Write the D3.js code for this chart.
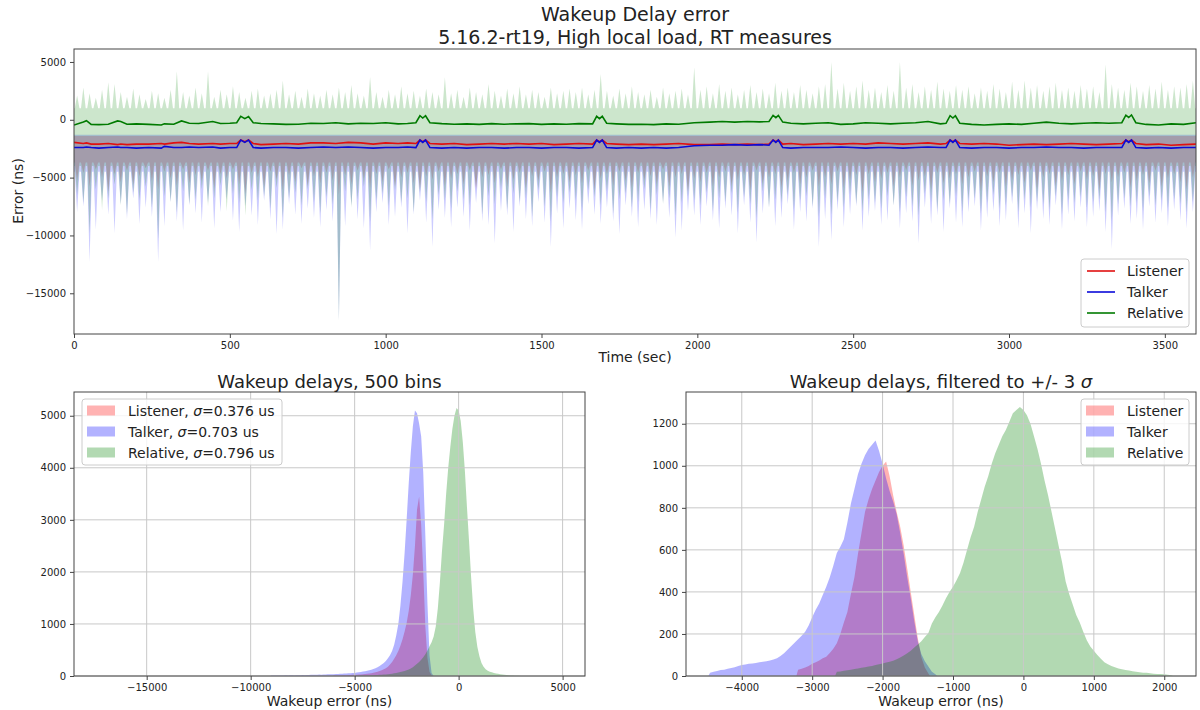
<!DOCTYPE html>
<html><head><meta charset="utf-8">
<script src="https://cdn.jsdelivr.net/npm/d3@7"></script>
<style>body{margin:0;background:#fff}svg{display:block;font-family:"DejaVu Sans",sans-serif}</style>
</head><body><svg id="c" width="1200" height="710"></svg>
<script>
// ---------------- DATA ----------------
const seriesNames = ["Listener", "Talker", "Relative"];
const sigmaLabels = ["0.376", "0.703", "0.796"];
const timeTicks = [0, 500, 1000, 1500, 2000, 2500, 3000, 3500];
const errorTicks = [5000, 0, -5000, -10000, -15000];
const leftXTicks = [-15000, -10000, -5000, 0, 5000];
const leftYTicks = [0, 1000, 2000, 3000, 4000, 5000];
const rightXTicks = [-4000, -3000, -2000, -1000, 0, 1000, 2000];
const rightYTicks = [0, 200, 400, 600, 800, 1000, 1200];

// raw time series summarised per 20 s bin (first bin centred at 10 s)
const timeBinStart = 10, timeBinStep = 20;
// dense core of each raw series [low, high] (ns)
const listenerCore = [-3700, -1400];
const talkerCore = [-4500, -1300];
const relativeCore = [-4000, 1000];
// relative: per-bin maxima
const relativeUp = [
 2100,2800,2300,1900,2600,3250,3100,2400,2000,2700,2200,1800,2500,2300,1900,2600,4200,2400,2100,2800,
 2300,4200,2000,2600,2200,2900,2400,1900,2500,2700,2100,2300,2600,3400,2200,2500,2000,2700,2300,2100,
 2600,2200,2800,2400,3000,2300,2100,3700,2400,2000,2600,2200,2900,2300,2500,2100,2700,2400,2200,3670,
 2300,2600,2000,2800,2400,2200,3100,2500,2100,2700,2300,2900,2200,2600,2400,2000,2800,2300,2500,2700,
 2400,2800,2200,2600,3960,2500,2100,2700,2300,2900,2400,2200,2600,2000,2800,2300,2500,2700,2200,4535,
 2600,2900,2300,3100,2500,2800,2200,2600,3000,2400,2700,2300,3200,2500,2800,2400,3000,2600,2300,2900,
 3100,5000,2700,3200,2500,2900,3400,2600,2800,2400,3000,2500,5000,2800,3100,2400,2900,2600,3300,2700,
 2500,3000,2600,2900,2300,2800,2500,3100,2700,2400,3300,2600,3400,2800,3000,2500,2900,3200,2600,2800,
 2500,3000,2700,2900,2400,4800,3100,2800,2600,3200,2900,2500,3000,2700,3300,2600,2900,2800,3100,3400];
// relative: per-bin minima
const relativeDown = [
 -6500,-7200,-9800,-6000,-7800,-6800,-5600,-7400,-8200,-6300,-7000,-5800,-7600,-10300,-6600,-7100,-8000,-6200,-7300,-6900,
 -6000,-7500,-6800,-5700,-7900,-6400,-7200,-8300,-6100,-7000,-6600,-7700,-5900,-8500,-6800,-6300,-7400,-6000,-7100,-8100,
 -6700,-7300,-17400,-6200,-7600,-6900,-5800,-8800,-7000,-6400,-7500,-6100,-7200,-6800,-8000,-6300,-7100,-8600,-6500,-7000,
 -7700,-6200,-6900,-7400,-5900,-8200,-6600,-7300,-6000,-7800,-6400,-7100,-6800,-8400,-6100,-7500,-8800,-6700,-7200,-6300,
 -7000,-7900,-6100,-6700,-7400,-6200,-8100,-6900,-6400,-7600,-7100,-6000,-7800,-6500,-7300,-6800,-8300,-7200,-6600,-7000,
 -7400,-6300,-7900,-6800,-7100,-6400,-8000,-6700,-7300,-8500,-6200,-7600,-6900,-7200,-6500,-7800,-7000,-6600,-7500,-8400,
 -6800,-8200,-7100,-7600,-6500,-7300,-7900,-6900,-7200,-7700,-6600,-7400,-8000,-6700,-7500,-8300,-6400,-7100,-7800,-7000,
 -7300,-6600,-7900,-7000,-6800,-8100,-7200,-6500,-7700,-7400,-6700,-8000,-6900,-7600,-7100,-7300,-7800,-6600,-8200,-7000,
 -7200,-6700,-7600,-7100,-6900,-8000,-8800,-7300,-6800,-7500,-7200,-7900,-6600,-7400,-7000,-7700,-6900,-7300,-8000,-7100];
// talker: per-bin minima
const talkerDown = [
 -8000,-7500,-12300,-9500,-7000,-8200,-9800,-7300,-8600,-6800,-9000,-7600,-8400,-12300,-9200,-7100,-8800,-9600,-7400,-8100,
 -8900,-7200,-9400,-8000,-6900,-8700,-9700,-7500,-8300,-9100,-7000,-8600,-9900,-9500,-7300,-8200,-9000,-7700,-8500,-9300,
 -7800,-8800,-17400,-9200,-7400,-8600,-9400,-11300,-8000,-7200,-9100,-8400,-7600,-9800,-8200,-7000,-8900,-11000,-7800,-8500,
 -9300,-7600,-8400,-9600,-7200,-8800,-9100,-10700,-7900,-8300,-9700,-7500,-8600,-9200,-7100,-8900,-11000,-8100,-9400,-7700,
 -8700,-9500,-7300,-8200,-9000,-7600,-8800,-9900,-7400,-8400,-9300,-7800,-8600,-9100,-7200,-8500,-10200,-9600,-7900,-8300,
 -9100,-7500,-8700,-9400,-7700,-8300,-9800,-7400,-8900,-10600,-8100,-7600,-9200,-8500,-7300,-9500,-8000,-8800,-7700,-11000,
 -8600,-10400,-7800,-9300,-8200,-7500,-9600,-8400,-7900,-9100,-8700,-7400,-9400,-8100,-8800,-10700,-7600,-9000,-8300,-9700,
 -7700,-8900,-9300,-8000,-7500,-9600,-8500,-7900,-9200,-8700,-7300,-9400,-8100,-9800,-7800,-8600,-9100,-7400,-9500,-8200,
 -8800,-7600,-9300,-8400,-7900,-9700,-11200,-8300,-7700,-9000,-8600,-9500,-7500,-8900,-8100,-9200,-7800,-8700,-9400,-8000];
// listener: per-bin minima
const listenerDown = [
 -5200,-4600,-5800,-4300,-5000,-6200,-4700,-5400,-4400,-5600,-4900,-4200,-5300,-6000,-4500,-5100,-5700,-4300,-5500,-4800,
 -5300,-4400,-5900,-4700,-5100,-4300,-5600,-6400,-4600,-5000,-5800,-4500,-5200,-6100,-4800,-5400,-4200,-5700,-4900,-5500,
 -4600,-5300,-6500,-4800,-5600,-4400,-5100,-5900,-4700,-5400,-4300,-5800,-5000,-4600,-5500,-6000,-4900,-5200,-4500,-5700,
 -5100,-4700,-5600,-4400,-6100,-5000,-4800,-5500,-4300,-5800,-5200,-4600,-5900,-4900,-5300,-4500,-6300,-5000,-4700,-5400,
 -4800,-5500,-4400,-6000,-5100,-4700,-5700,-4500,-5300,-5900,-4600,-5200,-4900,-5600,-4300,-5800,-5000,-4700,-6200,-5100,
 -5400,-4600,-5800,-5000,-4500,-5700,-5200,-4800,-6100,-4400,-5500,-5000,-4700,-5900,-5300,-4600,-5600,-5000,-4400,-5800,
 -5000,-5600,-4500,-5900,-5200,-4800,-6300,-4700,-5400,-5100,-4600,-5800,-5000,-4400,-5700,-5300,-4900,-6000,-4600,-5500,
 -5100,-4700,-5600,-5000,-4500,-6200,-4900,-5400,-4600,-5800,-5200,-4800,-5500,-4400,-6000,-5000,-4700,-5700,-5300,-4800,
 -5600,-4500,-5200,-4900,-6100,-4700,-5400,-5000,-4600,-5900,-5300,-4800,-5500,-4400,-5800,-5100,-4700,-5400,-6000,-5000];

// rolling means
const meanTime = [
 0,30,40,55,80,110,140,150,170,200,
 240,280,290,320,345,370,400,445,470,500,
 522,535,548,560,575,600,640,680,720,760,
 800,840,880,920,960,1000,1040,1070,1097,1110,
 1119,1128,1142,1180,1220,1260,1300,1340,1380,1420,
 1460,1500,1540,1580,1620,1664,1677,1686,1695,1709,
 1740,1780,1820,1860,1900,1940,1990,2040,2080,2120,
 2160,2200,2230,2243,2252,2260,2274,2300,2340,2380,
 2420,2460,2500,2540,2580,2620,2660,2700,2740,2780,
 2798,2811,2820,2828,2842,2880,2920,2960,3000,3040,
 3080,3120,3160,3200,3240,3280,3320,3362,3375,3384,
 3393,3407,3440,3480,3520,3560,3600];
const relativeMean = [
 -450,-200,-80,-400,-420,-380,-100,-150,-380,-350,
 -400,-450,-350,-380,-100,-300,-320,-150,-320,-300,
 -250,300,100,280,-250,-320,-350,-400,-380,-300,
 -320,-250,-350,-300,-320,-250,-350,-320,-250,350,
 150,350,-250,-330,-380,-350,-400,-330,-380,-350,
 -330,-400,-350,-380,-330,-350,300,100,300,-300,
 -350,-400,-380,-420,-350,-380,-250,-200,-150,-200,
 -150,-180,-150,380,180,380,-200,-300,-350,-300,
 -250,-400,-350,-250,-300,-350,-300,-250,-150,-350,
 -300,350,150,350,-300,-400,-450,-400,-350,-400,
 -300,-200,-300,-350,-300,-250,-300,-250,400,200,
 420,-250,-400,-450,-350,-400,-250];
const listenerMean = [
 -1950,-2050,-2000,-2100,-2100,-2050,-2150,-2100,-2150,-2100,
 -2100,-2050,-2100,-2000,-1950,-2050,-2100,-2050,-2100,-2050,
 -2050,-1750,-1900,-1750,-2050,-2150,-2100,-2050,-2100,-2000,
 -2000,-2050,-1950,-2000,-2100,-2000,-2050,-2000,-2050,-1750,
 -1900,-1750,-2050,-2100,-2050,-2150,-2100,-2050,-2100,-2050,
 -2100,-2050,-2150,-2100,-2050,-2100,-1750,-1900,-1750,-2050,
 -2100,-2150,-2100,-2150,-2100,-2050,-2150,-2150,-2100,-2150,
 -2100,-2150,-2100,-1750,-1900,-1750,-2100,-2050,-2150,-2100,
 -2050,-2100,-2050,-2100,-2000,-2050,-2100,-2050,-2000,-2100,
 -2050,-1750,-1900,-1750,-2050,-2100,-2050,-2100,-2200,-2150,
 -2100,-2150,-2100,-2050,-2100,-2150,-2100,-2050,-1750,-1900,
 -1750,-2050,-2150,-2100,-2200,-2150,-2100];
const talkerMean = [
 -2400,-2400,-2350,-2400,-2450,-2400,-2350,-2400,-2400,-2450,
 -2400,-2450,-2300,-2400,-2400,-2350,-2400,-2350,-2450,-2400,
 -2400,-1750,-1950,-1750,-2400,-2450,-2400,-2400,-2450,-2400,
 -2350,-2400,-2350,-2400,-2450,-2400,-2400,-2350,-2400,-1750,
 -1950,-1750,-2400,-2450,-2400,-2450,-2400,-2400,-2450,-2400,
 -2400,-2450,-2400,-2400,-2450,-2400,-1750,-1950,-1750,-2400,
 -2450,-2400,-2450,-2400,-2450,-2400,-2250,-2200,-2200,-2150,
 -2200,-2150,-2200,-1750,-1950,-1750,-2400,-2450,-2400,-2400,
 -2400,-2350,-2400,-2450,-2400,-2400,-2450,-2400,-2350,-2400,
 -2400,-1750,-1950,-1750,-2400,-2450,-2400,-2400,-2450,-2400,
 -2400,-2350,-2400,-2400,-2450,-2400,-2400,-2400,-1750,-1950,
 -1750,-2400,-2450,-2400,-2450,-2400,-2400];

// histogram, 500 bins (counts read every 100 ns)
const leftTalkerStart = -9000, leftListenerStart = -6000, leftRelativeStart = -5000, leftStep = 100;
const leftTalker = [8,10,8,12,10,9,12,14,11,13,15,12,14,16,15,18,16,20,18,22,
 22,25,24,27,26,30,28,32,34,33,36,38,40,42,45,48,50,52,55,58,
 60,65,70,78,85,92,100,110,120,135,150,170,190,220,250,290,340,400,480,600,
 780,1000,1350,1800,2350,3000,3700,4300,4800,5100,5050,4850,4600,3900,2700,1400,400,60,0];
const leftListener = [10,10,12,12,14,15,16,18,20,22,24,26,28,30,34,38,42,48,55,62,70,80,95,110,130,
 150,180,220,270,330,400,480,580,700,850,1020,1250,1550,1950,2500,3200,3450,2900,2000,950,350,80,15,0];
const leftRelative = [5,6,7,8,9,10,11,12,14,16,18,20,22,25,28,31,35,40,45,52,
 60,68,75,85,95,110,125,145,170,200,235,270,310,360,420,490,570,650,760,950,
 1300,1800,2400,2900,3500,4000,4400,4750,5000,5150,5100,4900,4500,3950,3250,2600,1900,1300,850,560,
 380,250,180,130,100,80,70,60,50,42,36,30,25,20,16,12,9,7,5,3,2];

// histogram filtered to +/- 3 sigma (counts read every 50 ns)
const rightTalkerStart = -4450, rightListenerStart = -3200, rightRelativeStart = -2650, rightStep = 50;
const rightTalker = [16,20,24,28,30,34,38,42,48,52,55,58,60,62,65,68,70,74,78,85,
 95,108,125,142,158,175,192,210,240,280,315,345,385,425,470,525,585,615,650,730,
 820,890,960,1010,1050,1080,1100,1120,1070,1010,940,880,830,770,680,580,470,370,260,165,
 105,70,45,20,8];
const rightListener = [30,35,40,48,58,66,74,84,92,110,130,156,200,255,305,390,470,580,680,780,
 840,890,930,970,1000,1020,950,860,780,710,620,510,400,290,180,90,40,12];
const rightRelative = [20,22,25,27,30,33,36,39,42,45,48,52,56,60,64,68,73,80,88,97,
 108,120,135,150,165,185,205,250,280,305,335,370,400,425,455,490,540,600,660,710,
 780,840,900,950,1010,1060,1100,1140,1170,1210,1250,1265,1280,1265,1240,1200,1140,1080,1010,930,
 860,780,700,620,540,450,390,340,290,255,210,170,140,120,100,82,65,56,48,42,
 36,32,29,26,23,20,18,16,15,13,11,10,9,8,6,4];

// ---------------- DRAW ----------------
const svg = d3.select("#c");
svg.append("rect").attr("width",1200).attr("height",710).attr("fill","#fff");
const TXT = "#222", SPINE = "#444";
const fmt = d3.format("d");
const fills = {Listener:"rgb(255,0,0)", Talker:"rgb(0,0,255)", Relative:"rgb(0,128,0)"};
const lineCols = {Listener:"#e01010", Talker:"#0a0ad8", Relative:"#007a00"};

function styleAxis(g, fs){
  g.select(".domain").remove();
  g.selectAll(".tick line").attr("stroke", SPINE);
  g.selectAll(".tick text").attr("fill", TXT).attr("font-size", fs).attr("font-family","DejaVu Sans");
}

// ===== Top chart =====
const T = {l:74, r:1196, t:49, b:334};
const xT = d3.scaleLinear().domain([0,3600]).range([T.l,T.r]);
const yT = d3.scaleLinear().domain([-18520,6120]).range([T.b,T.t]);
svg.append("clipPath").attr("id","clipT").append("rect")
  .attr("x",T.l).attr("y",T.t).attr("width",T.r-T.l).attr("height",T.b-T.t);
const gT = svg.append("g").attr("clip-path","url(#clipT)");

function bandPath(core, ups, downs){
  const half = timeBinStep*0.38;
  const pts = [[0, core[1]]];
  if (ups) ups.forEach((v,i)=>{const t=timeBinStart+i*timeBinStep; pts.push([t-half,core[1]],[t,v],[t+half,core[1]]);});
  pts.push([3600, core[1]],[3600, core[0]]);
  for (let i=downs.length-1;i>=0;i--){const t=timeBinStart+i*timeBinStep; pts.push([t+half,core[0]],[t,downs[i]],[t-half,core[0]]);}
  pts.push([0, core[0]]);
  return d3.line().x(d=>xT(d[0])).y(d=>yT(d[1]))(pts)+"Z";
}
gT.append("path").attr("d",bandPath(listenerCore,null,listenerDown)).attr("fill",fills.Listener).attr("fill-opacity",0.2);
gT.append("path").attr("d",bandPath(talkerCore,null,talkerDown)).attr("fill",fills.Talker).attr("fill-opacity",0.2);
gT.append("path").attr("d",bandPath(relativeCore,relativeUp,relativeDown)).attr("fill",fills.Relative).attr("fill-opacity",0.2);

const meanLine = arr => d3.line().x((d,i)=>xT(meanTime[i])).y(d=>yT(d))(arr);
gT.append("path").attr("d",meanLine(listenerMean)).attr("fill","none").attr("stroke",lineCols.Listener).attr("stroke-width",1.6);
gT.append("path").attr("d",meanLine(talkerMean)).attr("fill","none").attr("stroke",lineCols.Talker).attr("stroke-width",1.6);
gT.append("path").attr("d",meanLine(relativeMean)).attr("fill","none").attr("stroke",lineCols.Relative).attr("stroke-width",1.6);

svg.append("rect").attr("x",T.l).attr("y",T.t).attr("width",T.r-T.l).attr("height",T.b-T.t)
  .attr("fill","none").attr("stroke",SPINE).attr("stroke-width",1);
styleAxis(svg.append("g").attr("transform",`translate(0,${T.b})`)
  .call(d3.axisBottom(xT).tickValues(timeTicks).tickFormat(fmt).tickSize(4).tickPadding(4)), 10);
styleAxis(svg.append("g").attr("transform",`translate(${T.l},0)`)
  .call(d3.axisLeft(yT).tickValues(errorTicks).tickFormat(fmt).tickSize(4).tickPadding(4)), 10);

svg.append("text").attr("x",635).attr("y",21).attr("text-anchor","middle").attr("font-size",19).attr("fill",TXT).text("Wakeup Delay error");
svg.append("text").attr("x",635).attr("y",44).attr("text-anchor","middle").attr("font-size",19).attr("fill",TXT).text("5.16.2-rt19, High local load, RT measures");
svg.append("text").attr("x",635).attr("y",362).attr("text-anchor","middle").attr("font-size",14).attr("fill",TXT).text("Time (sec)");
svg.append("text").attr("transform","translate(23,191) rotate(-90)").attr("text-anchor","middle").attr("font-size",14).attr("fill",TXT).text("Error (ns)");

// top legend
{
  const g = svg.append("g");
  g.append("rect").attr("x",1081).attr("y",259).attr("width",108).attr("height",68).attr("rx",3)
    .attr("fill","#fff").attr("fill-opacity",0.8).attr("stroke","#ccc");
  seriesNames.forEach((s,i)=>{
    const y = 271 + i*21;
    g.append("line").attr("x1",1087).attr("x2",1115).attr("y1",y).attr("y2",y).attr("stroke",lineCols[s]).attr("stroke-width",1.6);
    g.append("text").attr("x",1127).attr("y",y+5).attr("font-size",14).attr("fill",TXT).text(s);
  });
}

// ===== Histograms =====
function histChart(box, xDom, yDom, xTicks, yTicks, series, title){
  const x = d3.scaleLinear().domain(xDom).range([box.l,box.r]);
  const y = d3.scaleLinear().domain(yDom).range([box.b,box.t]);
  const g = svg.append("g");
  series.forEach(s=>{
    const pts = s.counts.map((c,i)=>[s.start+i*s.step, c]);
    pts.unshift([s.start - s.step/2, 0]);
    pts.push([s.start + (s.counts.length-0.5)*s.step, 0]);
    g.append("path").attr("d", d3.area().x(d=>x(d[0])).y0(y(0)).y1(d=>y(d[1]))(pts))
      .attr("fill",fills[s.name]).attr("fill-opacity",0.3);
  });
  // grid
  xTicks.forEach(v=>g.append("line").attr("x1",x(v)).attr("x2",x(v)).attr("y1",box.t).attr("y2",box.b).attr("stroke","#c8c8c8").attr("stroke-width",1));
  yTicks.forEach(v=>g.append("line").attr("x1",box.l).attr("x2",box.r).attr("y1",y(v)).attr("y2",y(v)).attr("stroke","#c8c8c8").attr("stroke-width",1));
  svg.append("rect").attr("x",box.l).attr("y",box.t).attr("width",box.r-box.l).attr("height",box.b-box.t)
    .attr("fill","none").attr("stroke",SPINE).attr("stroke-width",1);
  styleAxis(svg.append("g").attr("transform",`translate(0,${box.b})`)
    .call(d3.axisBottom(x).tickValues(xTicks).tickFormat(fmt).tickSize(4).tickPadding(4)), 10);
  styleAxis(svg.append("g").attr("transform",`translate(${box.l},0)`)
    .call(d3.axisLeft(y).tickValues(yTicks).tickFormat(fmt).tickSize(4).tickPadding(4)), 10);
  const cx = (box.l+box.r)/2;
  const tt = svg.append("text").attr("x",cx).attr("y",388).attr("text-anchor","middle").attr("font-size",18).attr("fill",TXT);
  title(tt);
  svg.append("text").attr("x",cx).attr("y",706).attr("text-anchor","middle").attr("font-size",14).attr("fill",TXT).text("Wakeup error (ns)");
}

histChart({l:74,r:585,t:392,b:676}, [-18495,6077], [0,5456], leftXTicks, leftYTicks, [
  {name:"Listener", start:leftListenerStart, step:leftStep, counts:leftListener},
  {name:"Talker", start:leftTalkerStart, step:leftStep, counts:leftTalker},
  {name:"Relative", start:leftRelativeStart, step:leftStep, counts:leftRelative}],
  t=>t.text("Wakeup delays, 500 bins"));

histChart({l:686,r:1196,t:392,b:676}, [-4792,2451], [0,1351], rightXTicks, rightYTicks, [
  {name:"Listener", start:rightListenerStart, step:rightStep, counts:rightListener},
  {name:"Talker", start:rightTalkerStart, step:rightStep, counts:rightTalker},
  {name:"Relative", start:rightRelativeStart, step:rightStep, counts:rightRelative}],
  t=>{t.append("tspan").text("Wakeup delays, filtered to +/- 3 "); t.append("tspan").attr("font-style","italic").text("σ");});

// bottom legends
function patchLegend(x0, y0, w, withSigma){
  const g = svg.append("g");
  g.append("rect").attr("x",x0).attr("y",y0).attr("width",w).attr("height",66).attr("rx",3)
    .attr("fill","#fff").attr("fill-opacity",0.8).attr("stroke","#ccc");
  seriesNames.forEach((s,i)=>{
    const y = y0 + 11.5 + i*21;
    g.append("rect").attr("x",x0+5).attr("y",y-5).attr("width",28).attr("height",10).attr("fill",fills[s]).attr("fill-opacity",0.3);
    const t = g.append("text").attr("x",x0+46).attr("y",y+5).attr("font-size",14).attr("fill",TXT);
    if (withSigma){
      t.append("tspan").text(s+", ");
      t.append("tspan").attr("font-style","italic").text("σ");
      t.append("tspan").text("="+sigmaLabels[i]+" us");
    } else t.text(s);
  });
}
patchLegend(82, 399, 200, true);
patchLegend(1081, 399, 108, false);
</script></body></html>
